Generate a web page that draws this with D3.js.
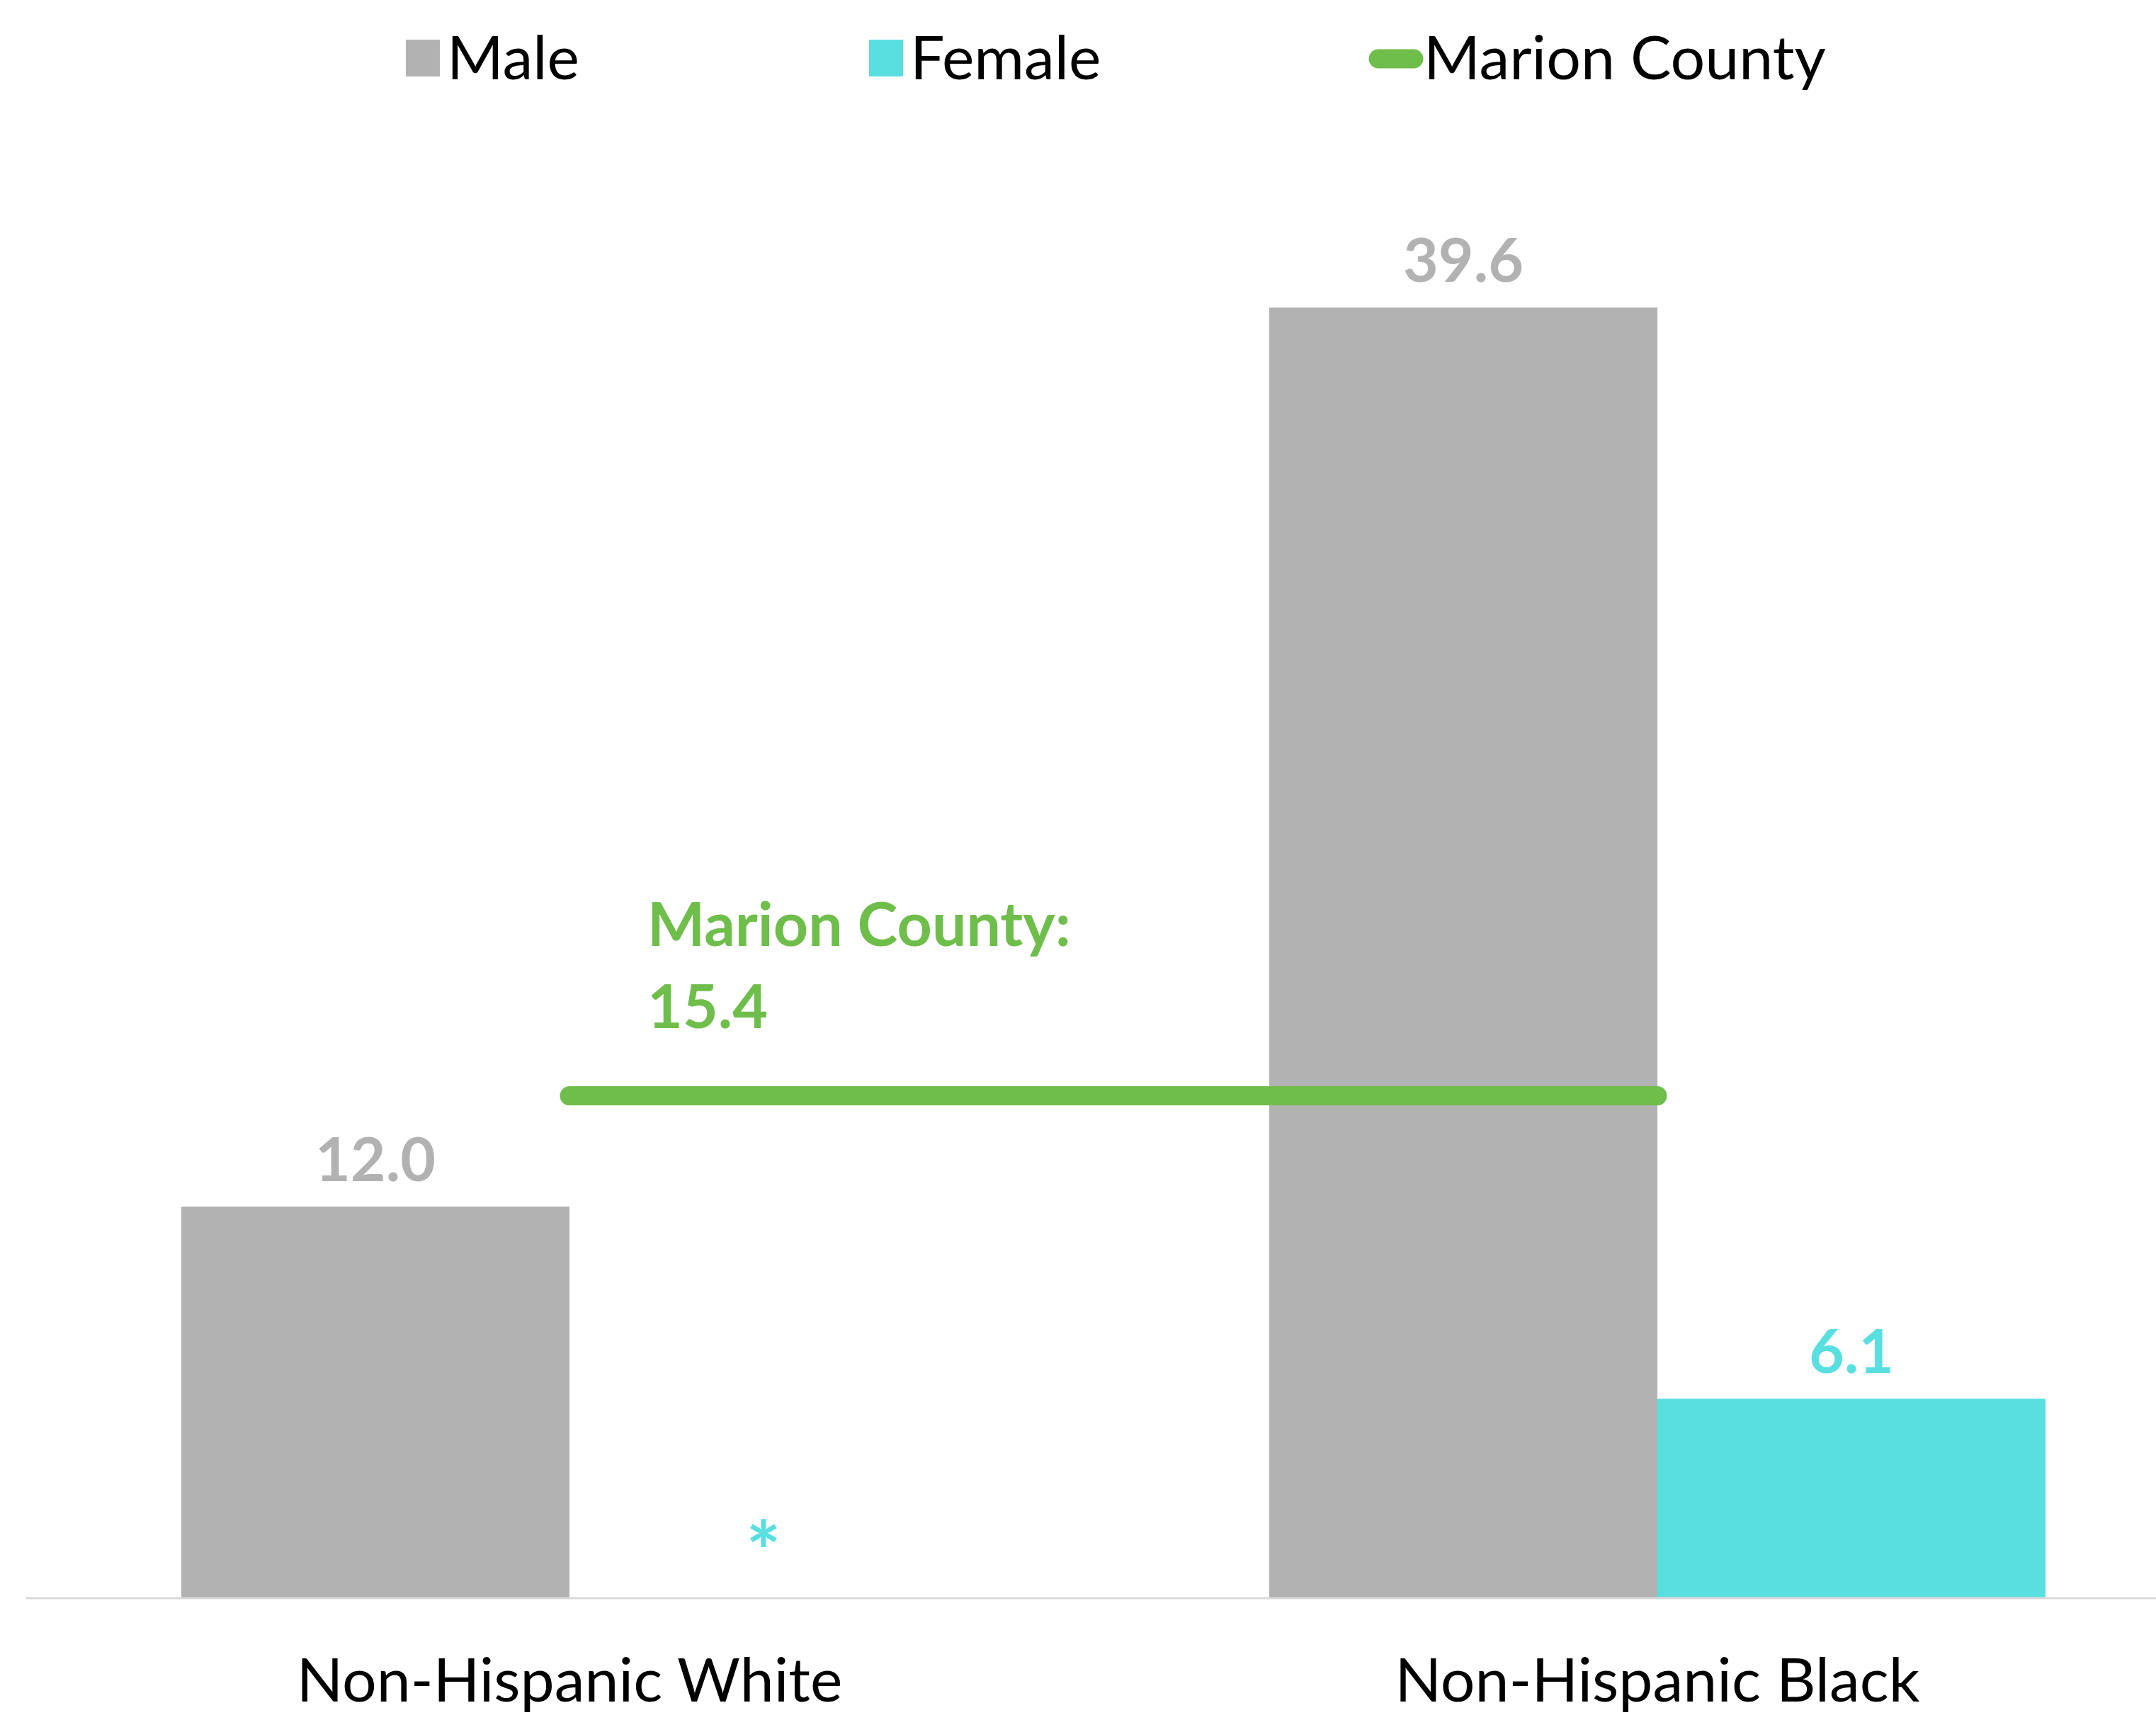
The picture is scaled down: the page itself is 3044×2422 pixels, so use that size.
<!DOCTYPE html>
<html><head><meta charset="utf-8">
<script src="https://cdn.jsdelivr.net/npm/d3@7"></script>
<style>html,body{margin:0;padding:0;background:#fff;}svg{display:block;}</style>
</head><body>
<script>
const categories = ["Non-Hispanic White", "Non-Hispanic Black"];
const seriesNames = ["Male", "Female"];
const maleValues = [12.0, 39.6];
const femaleValues = [null, 6.1];
const femaleLabels = ["*", "6.1"];
const maleLabels = ["12.0", "39.6"];
const countyName = "Marion County";
const countyValue = 15.4;

const W = 3044, H = 2422;
const colors = {Male: "#b2b2b2", Female: "#5adfe0", County: "#6fbe4b"};
const FONT = "Lato, 'Open Sans', sans-serif";
const FS = 86;

const svg = d3.select("body").append("svg").attr("width", W).attr("height", H);
svg.append("rect").attr("width", W).attr("height", H).attr("fill", "#fff");

const x = d3.scaleBand().domain(categories).range([36, 3108]).paddingInner(0).paddingOuter(0);
const inner = d3.scaleBand().domain(seriesNames).range([220, x.bandwidth() - 220]);
const y = d3.scaleLinear().domain([0, 45]).range([2256, 186]);

const rows = categories.map((c, i) => ({cat: c, Male: maleValues[i], Female: femaleValues[i], labels: {Male: maleLabels[i], Female: femaleLabels[i]}}));

const g = svg.append("g");
rows.forEach(r => {
  seriesNames.forEach(s => {
    const v = r[s];
    const bx = x(r.cat) + inner(s);
    if (v != null) {
      g.append("rect").attr("x", bx).attr("width", inner.bandwidth())
        .attr("y", y(v)).attr("height", y(0) - y(v)).attr("fill", colors[s]);
    }
    const isStar = v == null;
    g.append("text").attr("x", bx + inner.bandwidth() / 2).attr("y", isStar ? y(0) - 22 : y(v) - 36)
      .attr("text-anchor", "middle").attr("font-family", FONT).attr("font-weight", "bold")
      .attr("font-size", isStar ? FS * 1.35 : FS).attr("fill", colors[s]).text(r.labels[s]);
  });
});

// axis line
svg.append("line").attr("x1", 37).attr("x2", W).attr("y1", y(0) + 1).attr("y2", y(0) + 1)
  .attr("stroke", "#d9d9d9").attr("stroke-width", 3);

// category labels
svg.append("g").selectAll("text").data(categories).join("text")
  .attr("x", d => x(d) + x.bandwidth() / 2).attr("y", 2403)
  .attr("text-anchor", "middle").attr("font-family", FONT).attr("font-size", FS).attr("fill", "#000")
  .text(d => d);

// county line
const cx0 = x(categories[0]) + x.bandwidth() / 2, cx1 = x(categories[1]) + x.bandwidth() / 2;
svg.append("line").attr("x1", cx0).attr("x2", cx1).attr("y1", y(countyValue)).attr("y2", y(countyValue))
  .attr("stroke", colors.County).attr("stroke-width", 27).attr("stroke-linecap", "round");

// county annotation
const ann = svg.append("text").attr("font-family", FONT).attr("font-weight", "bold").attr("font-size", FS).attr("fill", colors.County);
ann.append("tspan").attr("x", 914).attr("y", 1336).text(countyName + ":");
ann.append("tspan").attr("x", 914).attr("y", 1452).text(d3.format(".1f")(countyValue));

// legend
const leg = svg.append("g");
const legItems = [
  {name: "Male", type: "rect", color: colors.Male, mx: 573, tx: 631},
  {name: "Female", type: "rect", color: colors.Female, mx: 1227, tx: 1285},
  {name: countyName, type: "line", color: colors.County, mx: 1932, tx: 2010}
];
legItems.forEach(it => {
  if (it.type === "rect") {
    leg.append("rect").attr("x", it.mx).attr("y", 56).attr("width", 48).attr("height", 52).attr("fill", it.color);
  } else {
    leg.append("line").attr("x1", it.mx + 14).attr("x2", it.tx - 14).attr("y1", 83).attr("y2", 83)
      .attr("stroke", it.color).attr("stroke-width", 27).attr("stroke-linecap", "round");
  }
  leg.append("text").attr("x", it.tx).attr("y", 112).attr("font-family", FONT).attr("font-size", FS)
    .attr("fill", "#000").text(it.name);
});
</script>
</body></html>
